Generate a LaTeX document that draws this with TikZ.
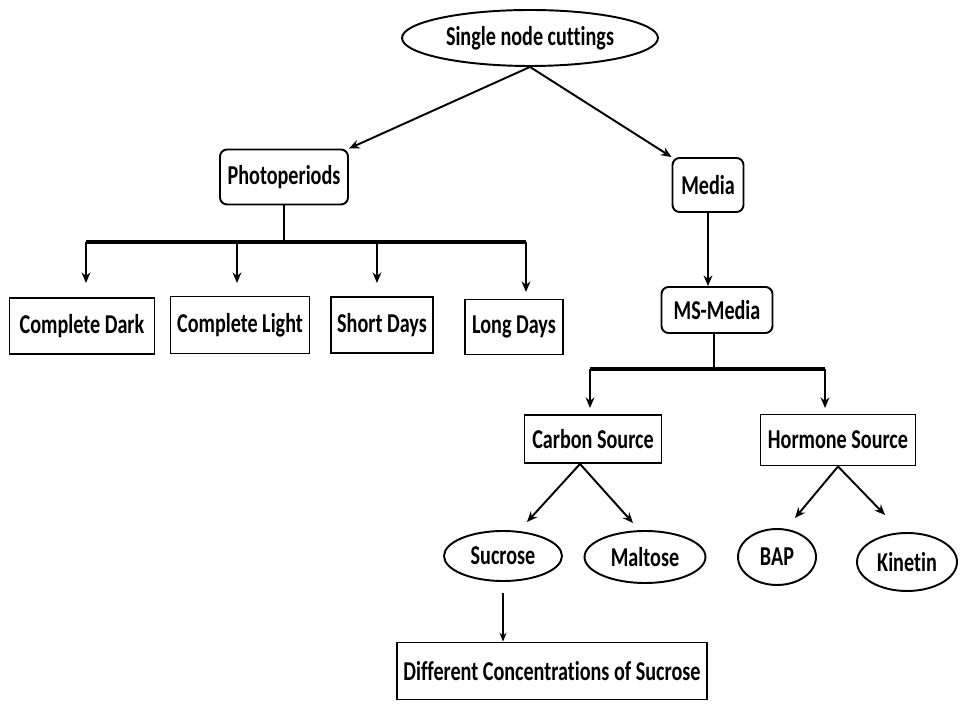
\documentclass[tikz,border=0pt]{standalone}
\usepackage{fontspec}
\setmainfont{Carlito}[FakeStretch=0.74,Ligatures=NoCommon]
\usetikzlibrary{shapes.geometric,arrows.meta}

\begin{document}
\begin{tikzpicture}[x=0.02cm,y=-0.02cm,
		every node/.style={font=\bfseries\fontsize{15.5}{18}\selectfont,inner sep=0pt},
		oval/.style={draw,ellipse,line width=1.1pt},
		rbox/.style={draw,rounded corners=4pt,line width=1.1pt},
		sbox/.style={draw,line width=1.1pt},
		link/.style={line width=1.1pt},
		bar/.style={line width=1.8pt},
		arr/.style={line width=1.1pt,-{Stealth[length=6pt,width=5pt]}},
		tarr/.style={line width=0.7pt,-{Stealth[length=5pt,width=4pt]}}]
		\useasboundingbox (0,0) rectangle (964,705);

		% Top
		\node[oval,minimum width=5.12cm,minimum height=1.12cm] (cut) at (530,38) {Single node cuttings};
		\node[rbox,minimum width=2.56cm,minimum height=1.1cm] (photo) at (284,177) {Photoperiods};
		\node[rbox,minimum width=1.42cm,minimum height=1.08cm] (media) at (708,185) {Media};
		\draw[arr] (cut.south) -- (photo.north east);
		\draw[arr] (cut.south) -- (media.north west);

		% Photoperiods
		\node[sbox,minimum width=2.9cm,minimum height=1.12cm] (dark) at (82,326) {Complete Dark};
		\node[sbox,minimum width=2.78cm,minimum height=1.14cm] (light) at (240,325) {Complete Light};
		\node[sbox,minimum width=2.04cm,minimum height=1.12cm] (short) at (382,325) {Short Days};
		\node[sbox,minimum width=1.96cm,minimum height=1.1cm] (long) at (514,327) {Long Days};
		\coordinate (pbar) at (284,242);
		\draw[link] (photo.south) -- (pbar);
		\draw[bar] (86,242) -- (526,242);
		\foreach \x/\n/\l in {86/dark/41,237/light/41,377/short/41,526/long/50}{
			\coordinate (t\n) at (\x,242);
			\draw[arr] (t\n) -- ++(0,\l);
		}

		% Media
		\node[rbox,minimum width=2.22cm,minimum height=0.92cm] (ms) at (717,310) {MS-Media};
		\draw[arr] (media.south) -- (media.south |- ms.north);
		\node[sbox,minimum width=2.74cm,minimum height=0.96cm] (carbon) at (593,439) {Carbon Source};
		\node[sbox,minimum width=3.1cm,minimum height=1.02cm] (hormone) at (838,440) {Hormone Source};
		\coordinate (mbar) at (714,369);
		\draw[link] (ms.south -| mbar) -- (mbar);
		\draw[bar] (590,369) -- (825,369);
		\foreach \x/\n in {590/carbon,825/hormone}{
			\coordinate (t\n) at (\x,369);
			\draw[arr] (t\n) -- ++(0,39);
		}

		% Sources
		\node[oval,minimum width=2.36cm,minimum height=1.0cm] (sucrose) at (503,556) {Sucrose};
		\node[oval,minimum width=2.42cm,minimum height=1.04cm] (maltose) at (645,557) {Maltose};
		\node[oval,minimum width=1.56cm,minimum height=1.12cm] (bap) at (777,557) {BAP};
		\node[oval,minimum width=2.0cm,minimum height=1.16cm] (kinetin) at (907,562) {Kinetin};
		\coordinate (sl) at (527,522);
		\coordinate (ml) at (633,523);
		\coordinate (bl) at (795,518);
		\coordinate (kl) at (885,515);
		\draw[arr] (carbon.south -| 580,0) -- (sl);
		\draw[arr] (carbon.south -| 580,0) -- (ml);
		\draw[arr] (hormone.south) -- (bl);
		\draw[arr] (hormone.south) -- (kl);

		% Sucrose
		\node[sbox,minimum width=6.2cm,minimum height=1.14cm] (conc) at (552,671) {Different Concentrations of Sucrose};
		\draw[tarr] ([yshift=-11*0.02cm]sucrose.south) -- (sucrose.south |- conc.north);
	\end{tikzpicture}
\end{document}
